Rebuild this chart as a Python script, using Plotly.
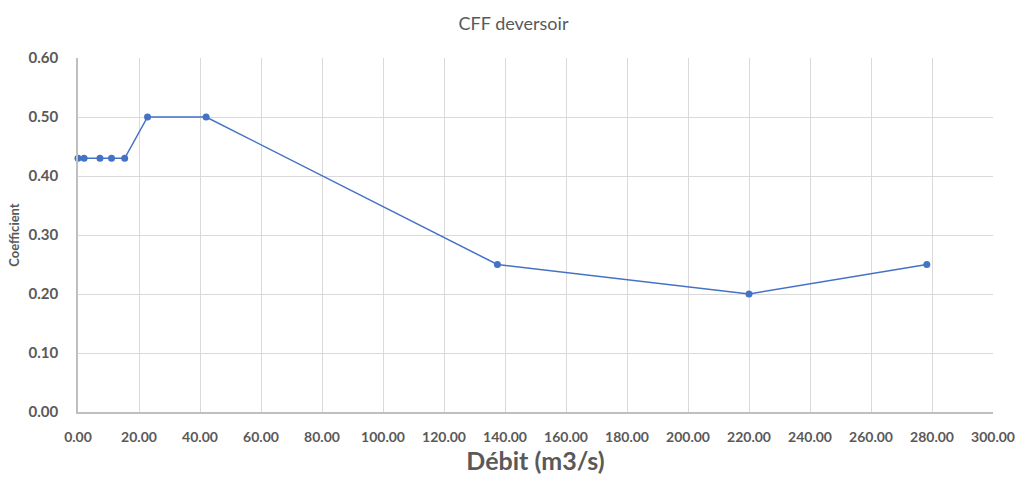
import plotly.graph_objects as go

debit = [0, 2, 7.2, 11, 15.3, 22.8, 42, 137.5, 220, 278.3]
coefficient = [0.43, 0.43, 0.43, 0.43, 0.43, 0.50, 0.50, 0.25, 0.20, 0.25]

title_text = "CFF deversoir"
x_title = "Débit (m3/s)"
y_title = "Coefficient"

font_family = "Lato, Open Sans, sans-serif"
gray = "#595959"

fig = go.Figure()
fig.add_trace(go.Scatter(
    x=debit, y=coefficient, mode="lines+markers",
    line=dict(color="#4472C4", width=1.5),
    marker=dict(color="#4472C4", size=7),
    showlegend=False, cliponaxis=False,
))

fig.update_layout(
    width=1027, height=482,
    margin=dict(l=78, r=26, t=58, b=69),
    paper_bgcolor="white", plot_bgcolor="white",
    font=dict(family=font_family, color=gray),
    title=dict(text=title_text, x=0.5, xanchor="center", y=0.95, yanchor="middle",
               font=dict(size=18, color=gray, family=font_family)),
)
fig.update_xaxes(
    range=[0, 300], dtick=20, tick0=0, tickformat=".2f",
    showgrid=True, gridcolor="#d9d9d9", gridwidth=1,
    showline=True, linecolor="#bfbfbf", linewidth=1.5,
    zeroline=False, ticks="", ticklabelstandoff=11,
    tickfont=dict(size=14, color=gray, family=font_family, weight="bold"),
    title=dict(text=x_title, standoff=8,
               font=dict(size=25, color=gray, family=font_family, weight="bold")),
)
fig.update_yaxes(
    range=[0, 0.6], dtick=0.1, tick0=0, tickformat=".2f",
    showgrid=True, gridcolor="#d9d9d9", gridwidth=1,
    showline=True, linecolor="#bfbfbf", linewidth=1.5,
    zeroline=False, ticks="", ticklabelstandoff=15,
    tickfont=dict(size=15, color=gray, family=font_family, weight="bold"),
    title=dict(text=y_title, standoff=6,
               font=dict(size=13, color=gray, family=font_family, weight="bold")),
)

fig.write_html("out.html")
